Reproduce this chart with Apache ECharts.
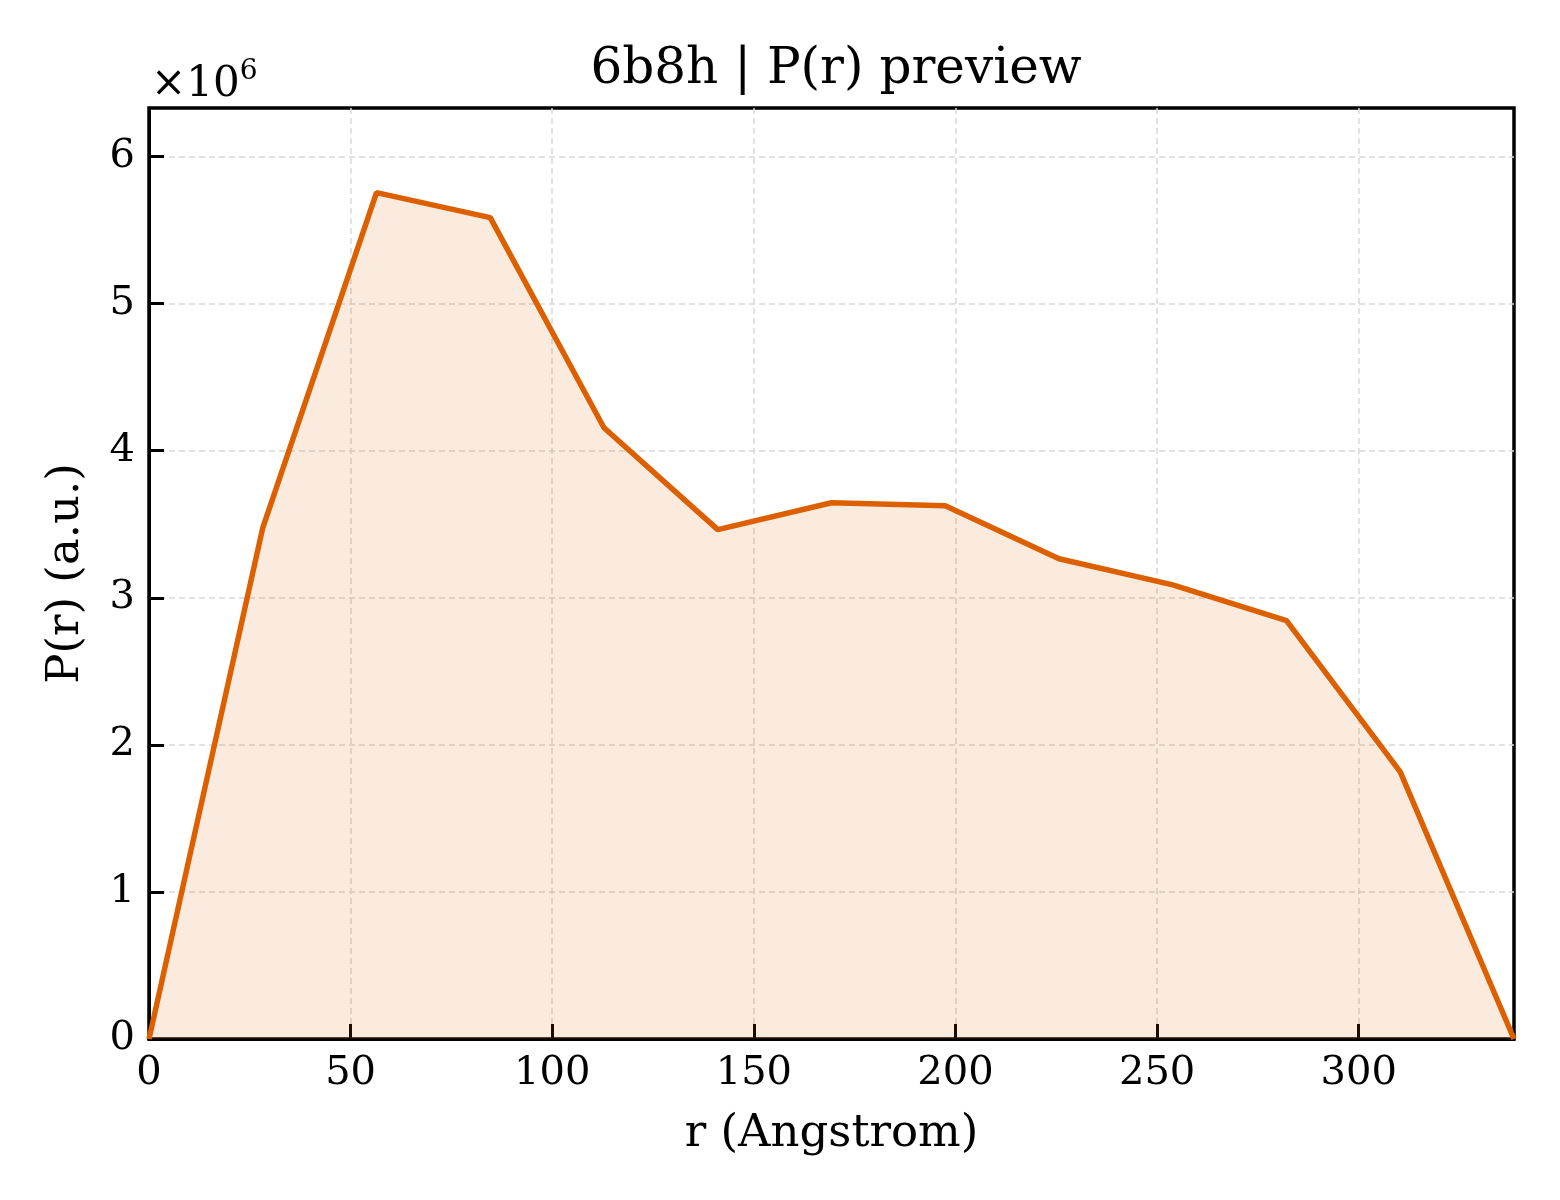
<!DOCTYPE html>
<html>
<head>
<meta charset="utf-8">
<script src="https://cdn.jsdelivr.net/npm/echarts@6/dist/echarts.min.js"></script>
<style>html,body{margin:0;padding:0;background:#fff}#c{width:1560px;height:1200px}</style>
</head>
<body>
<div id="c"></div>
<script>
const rValues = [0, 28.21, 56.42, 84.63, 112.83, 141.04, 169.25, 197.46, 225.67, 253.88, 282.08, 310.29, 338.5];
const prValues = [0, 3.476e6, 5.755e6, 5.585e6, 4.156e6, 3.463e6, 3.646e6, 3.626e6, 3.265e6, 3.088e6, 2.844e6, 1.816e6, 0];
const xTicks = [0, 50, 100, 150, 200, 250, 300];
const yTicks = [0, 1, 2, 3, 4, 5, 6];
const titleText = '6b8h | P(r) preview';
const xName = 'r (Angstrom)';
const yName = 'P(r) (a.u.)';

const font = 'DejaVu Serif';
const chart = echarts.init(document.getElementById('c'));
const data = rValues.map((r, i) => [r, prValues[i]]);
chart.setOption({
  animation: false,
  backgroundColor: '#fff',
  textStyle: { fontFamily: font },
  title: {
    text: titleText, left: 831, top: 40, textAlign: 'center',
    textStyle: { fontFamily: font, fontSize: 50, fontWeight: 'normal', color: '#000' }
  },
  grid: { left: 149, right: 46, top: 108, bottom: 161, show: true, borderColor: '#000', borderWidth: 3.5, backgroundColor: 'transparent' },
  graphic: [{
    type: 'text', left: 151, top: 58,
    style: {
      text: '{a|×10}{b|6}',
      rich: {
        a: { fontFamily: font, fontSize: 42, fill: '#000', verticalAlign: 'bottom' },
        b: { fontFamily: font, fontSize: 28, fill: '#000', verticalAlign: 'top', padding: [0, 0, 20, 0] }
      }
    }
  }],
  xAxis: {
    type: 'value', min: 0, max: 338.5, interval: 50,
    name: xName, nameLocation: 'middle', nameGap: 73,
    nameTextStyle: { fontFamily: font, fontSize: 45, color: '#000' },
    axisLine: { show: true, lineStyle: { color: '#000', width: 3 } },
    axisTick: { show: true, inside: true, length: 15, lineStyle: { color: '#000', width: 3 }, customValues: xTicks },
    axisLabel: { color: '#000', fontSize: 40, fontFamily: font, margin: 15, customValues: xTicks },
    splitLine: { show: true, lineStyle: { color: '#d9d9d9', width: 1.5, type: [6, 4] } }
  },
  yAxis: {
    type: 'value', min: 0, max: 6.33e6, interval: 1e6,
    name: yName, nameLocation: 'middle', nameGap: 60, nameRotate: 90,
    nameTextStyle: { fontFamily: font, fontSize: 45, color: '#000' },
    axisLine: { show: true, lineStyle: { color: '#000', width: 3 } },
    axisTick: { show: true, inside: true, length: 15, lineStyle: { color: '#000', width: 3 }, customValues: yTicks.map(v => v * 1e6) },
    axisLabel: { color: '#000', fontSize: 40, fontFamily: font, margin: 14, customValues: yTicks.map(v => v * 1e6), formatter: v => String(Math.round(v / 1e6)) },
    splitLine: { show: true, lineStyle: { color: '#d9d9d9', width: 1.5, type: [6, 4] } }
  },
  series: [{
    type: 'line', data: data, symbol: 'none',
    lineStyle: { color: '#DD6000', width: 5.5 },
    areaStyle: { color: '#DD6000', opacity: 0.13 },
    z: 3
  }]
});
</script>
</body>
</html>
